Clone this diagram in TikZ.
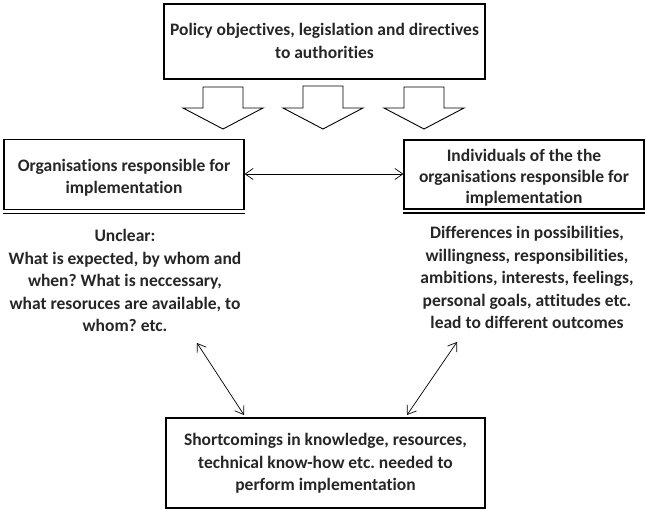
\documentclass[tikz,border=0pt]{standalone}
\usepackage{fontspec}
\setmainfont[Ligatures=NoCommon]{Carlito}
\usetikzlibrary{arrows.meta}
\newcommand{\mylines}[1]{\begin{tabular}[t]{@{}c@{}}#1\end{tabular}}
\begin{document}
\frenchspacing
\begin{tikzpicture}[x=1pt,y=-1pt,
  box/.style={draw,line width=1.1pt,inner sep=0pt,anchor=base,
    font=\bfseries\fontsize{17.5}{22.5}\selectfont,text=black!85},
  txt/.style={inner sep=0pt,anchor=base,font=\bfseries\fontsize{17.5}{22.4}\selectfont,text=black!85},
  conn/.style={line width=0.7pt,{Straight Barb[length=8pt,width=11pt]}-{Straight Barb[length=8pt,width=11pt]}},
  blk/.style={draw,line width=0.9pt,fill=white}]
\useasboundingbox (0,0) rectangle (646,510);
\node[box,minimum width=321pt,text height=32pt,text depth=43pt] (top) at (324.5,36) {\mylines{Policy objectives, legislation and directives\\to authorities}};
\node[box,minimum width=240pt,text height=32pt,text depth=38pt] (L) at (124,171.5) {\mylines{Organisations responsible for\\implementation}};
\node[box,minimum width=240pt,text height=22pt,text depth=47pt,font=\bfseries\fontsize{17.5}{21}\selectfont] (R) at (524,162) {\mylines{Individuals of the the\\organisations responsible for\\implementation}};
\draw[line width=1.1pt] ([yshift=-3.5pt]L.south west) -- ([yshift=-3.5pt]L.south east);
\draw[line width=1.1pt] ([yshift=-3.5pt]R.south west) -- ([yshift=-3.5pt]R.south east);
\node[box,minimum width=319pt,text height=28pt,text depth=62pt] (B) at (325.5,446) {\mylines{Shortcomings in knowledge, resources,\\technical know-how etc. needed to\\perform implementation}};
\node[txt] (LT) at (125,242) {\mylines{Unclear:\\What is expected, by whom and\\when? What is neccessary,\\what resoruces are available, to\\whom? etc.}};
\node[txt] (RT) at (527,239) {\mylines{Differences in possibilities,\\willingness, responsibilities,\\ambitions, interests, feelings,\\personal goals, attitudes etc.\\lead to different outcomes}};
% block arrows
\foreach \cx/\ty in {223/87,323/86,424/87}{
  \draw[blk] (\cx-20,\ty) -- (\cx+20,\ty) -- (\cx+20,108) -- (\cx+40,108) -- (\cx,129) -- (\cx-40,108) -- (\cx-20,108) -- cycle;
}
% connectors
\draw[conn] (L.east |- 0,174) -- (R.west |- 0,174);
\coordinate (a1) at (197,343);
\coordinate (a2) at (244,415);
\coordinate (b1) at (457,342);
\coordinate (b2) at (407,415);
\draw[conn] (a1) -- (a2);
\draw[conn] (b1) -- (b2);
\end{tikzpicture}
\end{document}
